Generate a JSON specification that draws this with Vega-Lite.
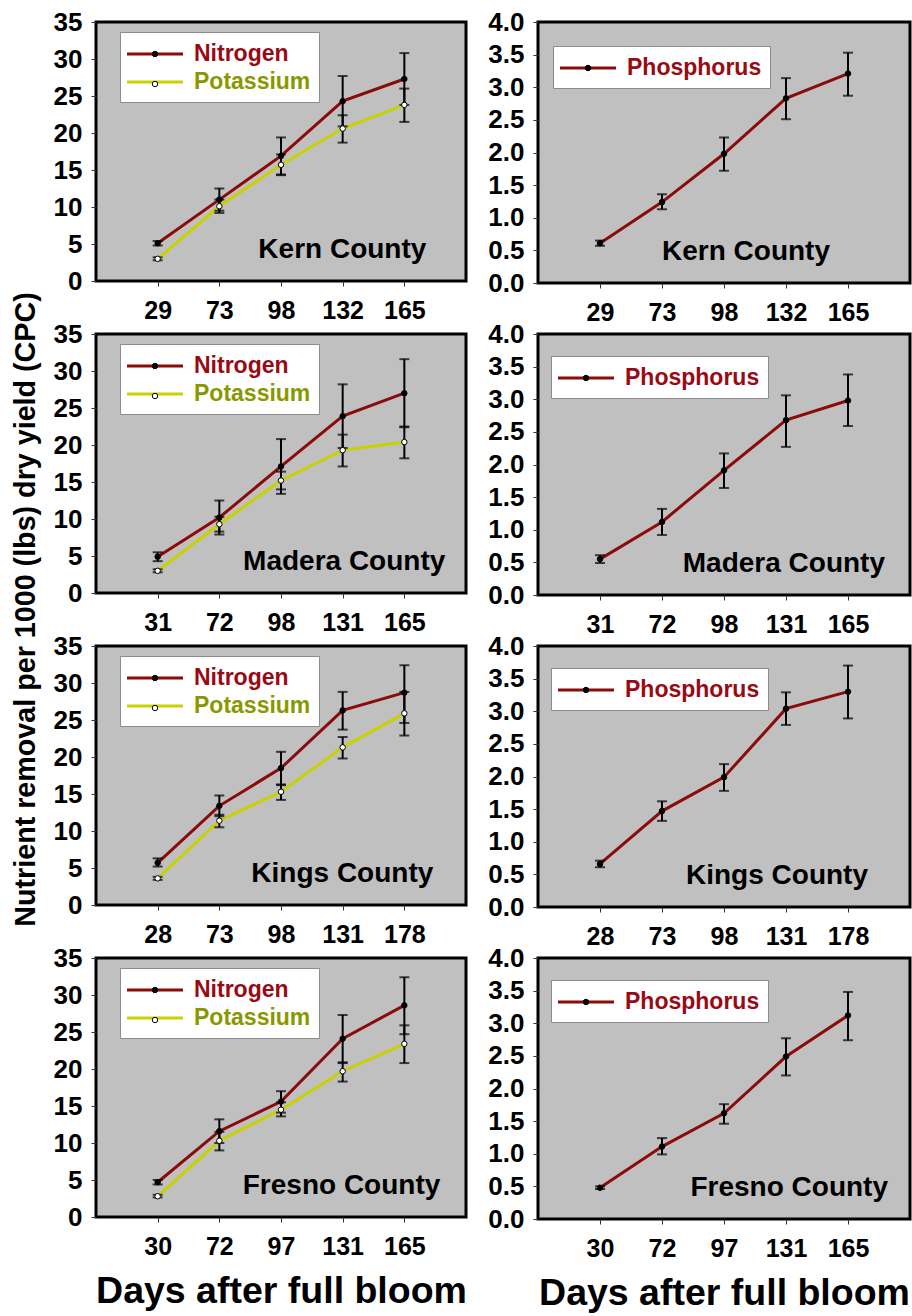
{
 "$schema": "https://vega.github.io/schema/vega-lite/v6.json",
 "padding": {"left": 9, "top": 7, "right": 0, "bottom": 0},
 "background": "white",
 "datasets": {
  "d": [
   {"county":"Kern County","nutrient":"Nitrogen","day":29,"value":5.1,"lo":4.8,"hi":5.4},
   {"county":"Kern County","nutrient":"Nitrogen","day":73,"value":11.0,"lo":9.5,"hi":12.5},
   {"county":"Kern County","nutrient":"Nitrogen","day":98,"value":16.9,"lo":14.4,"hi":19.4},
   {"county":"Kern County","nutrient":"Nitrogen","day":132,"value":24.3,"lo":20.9,"hi":27.7},
   {"county":"Kern County","nutrient":"Nitrogen","day":165,"value":27.3,"lo":23.8,"hi":30.8},
   {"county":"Kern County","nutrient":"Potassium","day":29,"value":3.0,"lo":2.8,"hi":3.2},
   {"county":"Kern County","nutrient":"Potassium","day":73,"value":10.1,"lo":9.2,"hi":11.0},
   {"county":"Kern County","nutrient":"Potassium","day":98,"value":15.7,"lo":14.3,"hi":17.1},
   {"county":"Kern County","nutrient":"Potassium","day":132,"value":20.6,"lo":18.7,"hi":22.4},
   {"county":"Kern County","nutrient":"Potassium","day":165,"value":23.8,"lo":21.5,"hi":26.0},
   {"county":"Kern County","nutrient":"Phosphorus","day":29,"value":0.61,"lo":0.57,"hi":0.65},
   {"county":"Kern County","nutrient":"Phosphorus","day":73,"value":1.24,"lo":1.13,"hi":1.36},
   {"county":"Kern County","nutrient":"Phosphorus","day":98,"value":1.98,"lo":1.72,"hi":2.23},
   {"county":"Kern County","nutrient":"Phosphorus","day":132,"value":2.83,"lo":2.51,"hi":3.14},
   {"county":"Kern County","nutrient":"Phosphorus","day":165,"value":3.21,"lo":2.87,"hi":3.53},
   {"county":"Madera County","nutrient":"Nitrogen","day":31,"value":4.9,"lo":4.3,"hi":5.5},
   {"county":"Madera County","nutrient":"Nitrogen","day":72,"value":10.2,"lo":7.9,"hi":12.5},
   {"county":"Madera County","nutrient":"Nitrogen","day":98,"value":17.1,"lo":13.4,"hi":20.8},
   {"county":"Madera County","nutrient":"Nitrogen","day":131,"value":23.9,"lo":19.6,"hi":28.2},
   {"county":"Madera County","nutrient":"Nitrogen","day":165,"value":27.0,"lo":22.4,"hi":31.6},
   {"county":"Madera County","nutrient":"Potassium","day":31,"value":3.0,"lo":2.8,"hi":3.2},
   {"county":"Madera County","nutrient":"Potassium","day":72,"value":9.3,"lo":8.3,"hi":10.3},
   {"county":"Madera County","nutrient":"Potassium","day":98,"value":15.2,"lo":14.0,"hi":16.4},
   {"county":"Madera County","nutrient":"Potassium","day":131,"value":19.3,"lo":17.1,"hi":21.4},
   {"county":"Madera County","nutrient":"Potassium","day":165,"value":20.4,"lo":18.2,"hi":22.5},
   {"county":"Madera County","nutrient":"Phosphorus","day":31,"value":0.55,"lo":0.49,"hi":0.61},
   {"county":"Madera County","nutrient":"Phosphorus","day":72,"value":1.12,"lo":0.92,"hi":1.32},
   {"county":"Madera County","nutrient":"Phosphorus","day":98,"value":1.91,"lo":1.64,"hi":2.17},
   {"county":"Madera County","nutrient":"Phosphorus","day":131,"value":2.68,"lo":2.27,"hi":3.06},
   {"county":"Madera County","nutrient":"Phosphorus","day":165,"value":2.98,"lo":2.59,"hi":3.38},
   {"county":"Kings County","nutrient":"Nitrogen","day":28,"value":5.7,"lo":5.2,"hi":6.3},
   {"county":"Kings County","nutrient":"Nitrogen","day":73,"value":13.4,"lo":12.0,"hi":14.8},
   {"county":"Kings County","nutrient":"Nitrogen","day":98,"value":18.5,"lo":16.2,"hi":20.7},
   {"county":"Kings County","nutrient":"Nitrogen","day":131,"value":26.3,"lo":23.7,"hi":28.8},
   {"county":"Kings County","nutrient":"Nitrogen","day":178,"value":28.7,"lo":24.6,"hi":32.4},
   {"county":"Kings County","nutrient":"Potassium","day":28,"value":3.6,"lo":3.4,"hi":3.8},
   {"county":"Kings County","nutrient":"Potassium","day":73,"value":11.4,"lo":10.5,"hi":12.2},
   {"county":"Kings County","nutrient":"Potassium","day":98,"value":15.3,"lo":14.2,"hi":16.3},
   {"county":"Kings County","nutrient":"Potassium","day":131,"value":21.3,"lo":19.8,"hi":22.7},
   {"county":"Kings County","nutrient":"Potassium","day":178,"value":25.9,"lo":22.9,"hi":28.8},
   {"county":"Kings County","nutrient":"Phosphorus","day":28,"value":0.66,"lo":0.61,"hi":0.71},
   {"county":"Kings County","nutrient":"Phosphorus","day":73,"value":1.47,"lo":1.32,"hi":1.62},
   {"county":"Kings County","nutrient":"Phosphorus","day":98,"value":1.99,"lo":1.78,"hi":2.19},
   {"county":"Kings County","nutrient":"Phosphorus","day":131,"value":3.04,"lo":2.79,"hi":3.29},
   {"county":"Kings County","nutrient":"Phosphorus","day":178,"value":3.30,"lo":2.89,"hi":3.70},
   {"county":"Fresno County","nutrient":"Nitrogen","day":30,"value":4.7,"lo":4.4,"hi":5.0},
   {"county":"Fresno County","nutrient":"Nitrogen","day":72,"value":11.6,"lo":10.0,"hi":13.2},
   {"county":"Fresno County","nutrient":"Nitrogen","day":97,"value":15.6,"lo":14.1,"hi":17.0},
   {"county":"Fresno County","nutrient":"Nitrogen","day":131,"value":24.1,"lo":20.8,"hi":27.3},
   {"county":"Fresno County","nutrient":"Nitrogen","day":165,"value":28.6,"lo":24.7,"hi":32.4},
   {"county":"Fresno County","nutrient":"Potassium","day":30,"value":2.8,"lo":2.65,"hi":3.0},
   {"county":"Fresno County","nutrient":"Potassium","day":72,"value":10.3,"lo":9.0,"hi":11.5},
   {"county":"Fresno County","nutrient":"Potassium","day":97,"value":14.5,"lo":13.6,"hi":15.5},
   {"county":"Fresno County","nutrient":"Potassium","day":131,"value":19.7,"lo":18.3,"hi":20.9},
   {"county":"Fresno County","nutrient":"Potassium","day":165,"value":23.4,"lo":20.8,"hi":25.9},
   {"county":"Fresno County","nutrient":"Phosphorus","day":30,"value":0.48,"lo":0.46,"hi":0.50},
   {"county":"Fresno County","nutrient":"Phosphorus","day":72,"value":1.11,"lo":0.99,"hi":1.24},
   {"county":"Fresno County","nutrient":"Phosphorus","day":97,"value":1.62,"lo":1.46,"hi":1.76},
   {"county":"Fresno County","nutrient":"Phosphorus","day":131,"value":2.49,"lo":2.20,"hi":2.77},
   {"county":"Fresno County","nutrient":"Phosphorus","day":165,"value":3.12,"lo":2.74,"hi":3.48}
  ]
 },
 "concat": [
  {
   "width": 370, "height": 259,
   "data": {"name": "d"},
   "transform": [{"filter": "datum.county === 'Kern County' && datum.nutrient !== 'Phosphorus'"}],
   "encoding": {"x": {"field": "day", "type": "ordinal", "scale": {"type": "point", "padding": 1}, "axis": {"title": null}}},
   "layer": [
    {"mark": {"type": "line", "strokeWidth": 3},
     "encoding": {
      "y": {"field": "value", "type": "quantitative", "title": "Nutrient removal per 1000 (lbs) dry yield (CPC)", "scale": {"domain": [0, 35], "nice": false}, "axis": {"tickCount": 7, "titleX": -62, "titleY": 587, "titleAngle": 270, "titleAlign": "center", "titleBaseline": "alphabetic", "titleFontSize": 28.7}},
      "color": {"field": "nutrient", "type": "nominal", "scale": {"range": ["#8b0a0a", "#c8d200"]}, "legend": {"title": null, "orient": "none", "legendX": 24, "legendY": 10, "fillColor": "white", "strokeColor": "#8c8c8c", "symbolType": "M-2.24,0H2.24", "symbolSize": 625, "symbolStrokeWidth": 3, "labelOffset": 25, "labelFontSize": 23, "encode": {"labels": {"update": {"fill": {"signal": "datum.value === 'Potassium' ? '#8a9800' : '#990a14'"}}}}}}
     }},
    {"mark": {"type": "errorbar", "ticks": true, "color": "black", "thickness": 2, "size": 10},
     "encoding": {"y": {"field": "lo", "type": "quantitative", "title": "Nutrient removal per 1000 (lbs) dry yield (CPC)"}, "y2": {"field": "hi"}}},
    {"mark": {"type": "point", "filled": true, "size": 30, "stroke": "black", "strokeWidth": 1, "opacity": 1},
     "encoding": {"y": {"field": "value", "type": "quantitative", "title": "Nutrient removal per 1000 (lbs) dry yield (CPC)"},
      "fill": {"field": "nutrient", "type": "nominal", "scale": {"domain": ["Nitrogen", "Potassium"], "range": ["black", "white"]}, "legend": {"title": null, "orient": "none", "legendX": 24, "legendY": 10, "symbolType": "circle", "symbolSize": 30, "symbolStrokeColor": "black", "symbolStrokeWidth": 1, "labelFontSize": 28, "labelExpr": "''"}}}},
    {"transform": [{"aggregate": [{"op": "count", "as": "n"}], "groupby": ["county"]}],
     "mark": {"type": "text", "fontSize": 28, "fontWeight": "bold", "align": "right", "baseline": "alphabetic", "dx": 22, "color": "black"},
     "encoding": {"x": {"datum": 165, "type": "ordinal"}, "y": {"datum": 3.1, "type": "quantitative"}, "text": {"field": "county"}}}
   ]
  },
  {
   "width": 372, "height": 261,
   "data": {"name": "d"},
   "transform": [{"filter": "datum.county === 'Kern County' && datum.nutrient === 'Phosphorus'"}],
   "encoding": {"x": {"field": "day", "type": "ordinal", "scale": {"type": "point", "padding": 1}, "axis": {"title": null}}},
   "layer": [
    {"mark": {"type": "line", "strokeWidth": 3},
     "encoding": {
      "y": {"field": "value", "type": "quantitative", "scale": {"domain": [0, 4], "nice": false}, "axis": {"tickCount": 8, "format": ".1f", "title": null}},
      "color": {"field": "nutrient", "type": "nominal", "scale": {"range": ["#8b0a0a"]}, "legend": {"title": null, "orient": "none", "legendX": 15, "legendY": 24, "fillColor": "white", "strokeColor": "#8c8c8c", "symbolType": "M-2.24,0H2.24", "symbolSize": 625, "symbolStrokeWidth": 3, "labelOffset": 25, "labelFontSize": 23, "labelColor": "#990a14"}}
     }},
    {"mark": {"type": "errorbar", "ticks": true, "color": "black", "thickness": 2, "size": 10},
     "encoding": {"y": {"field": "lo", "type": "quantitative"}, "y2": {"field": "hi"}}},
    {"mark": {"type": "point", "filled": true, "size": 30, "stroke": "black", "strokeWidth": 1, "opacity": 1},
     "encoding": {"y": {"field": "value", "type": "quantitative"},
      "fill": {"field": "nutrient", "type": "nominal", "scale": {"domain": ["Phosphorus"], "range": ["black"]}, "legend": {"title": null, "orient": "none", "legendX": 15, "legendY": 24, "symbolType": "circle", "symbolSize": 30, "symbolStrokeColor": "black", "symbolStrokeWidth": 1, "labelFontSize": 28, "labelExpr": "''"}}}},
    {"transform": [{"aggregate": [{"op": "count", "as": "n"}], "groupby": ["county"]}],
     "mark": {"type": "text", "fontSize": 28, "fontWeight": "bold", "align": "right", "baseline": "alphabetic", "dx": -18, "color": "black"},
     "encoding": {"x": {"datum": 165, "type": "ordinal"}, "y": {"datum": 0.35, "type": "quantitative"}, "text": {"field": "county"}}}
   ]
  },
  {
   "width": 370, "height": 259,
   "data": {"name": "d"},
   "transform": [{"filter": "datum.county === 'Madera County' && datum.nutrient !== 'Phosphorus'"}],
   "encoding": {"x": {"field": "day", "type": "ordinal", "scale": {"type": "point", "padding": 1}, "axis": {"title": null}}},
   "layer": [
    {"mark": {"type": "line", "strokeWidth": 3},
     "encoding": {
      "y": {"field": "value", "type": "quantitative", "scale": {"domain": [0, 35], "nice": false}, "axis": {"tickCount": 7, "title": null}},
      "color": {"field": "nutrient", "type": "nominal", "scale": {"range": ["#8b0a0a", "#c8d200"]}, "legend": {"title": null, "orient": "none", "legendX": 24, "legendY": 10, "fillColor": "white", "strokeColor": "#8c8c8c", "symbolType": "M-2.24,0H2.24", "symbolSize": 625, "symbolStrokeWidth": 3, "labelOffset": 25, "labelFontSize": 23, "encode": {"labels": {"update": {"fill": {"signal": "datum.value === 'Potassium' ? '#8a9800' : '#990a14'"}}}}}}
     }},
    {"mark": {"type": "errorbar", "ticks": true, "color": "black", "thickness": 2, "size": 10},
     "encoding": {"y": {"field": "lo", "type": "quantitative"}, "y2": {"field": "hi"}}},
    {"mark": {"type": "point", "filled": true, "size": 30, "stroke": "black", "strokeWidth": 1, "opacity": 1},
     "encoding": {"y": {"field": "value", "type": "quantitative"},
      "fill": {"field": "nutrient", "type": "nominal", "scale": {"domain": ["Nitrogen", "Potassium"], "range": ["black", "white"]}, "legend": {"title": null, "orient": "none", "legendX": 24, "legendY": 10, "symbolType": "circle", "symbolSize": 30, "symbolStrokeColor": "black", "symbolStrokeWidth": 1, "labelFontSize": 28, "labelExpr": "''"}}}},
    {"transform": [{"aggregate": [{"op": "count", "as": "n"}], "groupby": ["county"]}],
     "mark": {"type": "text", "fontSize": 28, "fontWeight": "bold", "align": "right", "baseline": "alphabetic", "dx": 41, "color": "black"},
     "encoding": {"x": {"datum": 165, "type": "ordinal"}, "y": {"datum": 3.1, "type": "quantitative"}, "text": {"field": "county"}}}
   ]
  },
  {
   "width": 372, "height": 261,
   "data": {"name": "d"},
   "transform": [{"filter": "datum.county === 'Madera County' && datum.nutrient === 'Phosphorus'"}],
   "encoding": {"x": {"field": "day", "type": "ordinal", "scale": {"type": "point", "padding": 1}, "axis": {"title": null}}},
   "layer": [
    {"mark": {"type": "line", "strokeWidth": 3},
     "encoding": {
      "y": {"field": "value", "type": "quantitative", "scale": {"domain": [0, 4], "nice": false}, "axis": {"tickCount": 8, "format": ".1f", "title": null}},
      "color": {"field": "nutrient", "type": "nominal", "scale": {"range": ["#8b0a0a"]}, "legend": {"title": null, "orient": "none", "legendX": 13, "legendY": 22, "fillColor": "white", "strokeColor": "#8c8c8c", "symbolType": "M-2.24,0H2.24", "symbolSize": 625, "symbolStrokeWidth": 3, "labelOffset": 25, "labelFontSize": 23, "labelColor": "#990a14"}}
     }},
    {"mark": {"type": "errorbar", "ticks": true, "color": "black", "thickness": 2, "size": 10},
     "encoding": {"y": {"field": "lo", "type": "quantitative"}, "y2": {"field": "hi"}}},
    {"mark": {"type": "point", "filled": true, "size": 30, "stroke": "black", "strokeWidth": 1, "opacity": 1},
     "encoding": {"y": {"field": "value", "type": "quantitative"},
      "fill": {"field": "nutrient", "type": "nominal", "scale": {"domain": ["Phosphorus"], "range": ["black"]}, "legend": {"title": null, "orient": "none", "legendX": 13, "legendY": 22, "symbolType": "circle", "symbolSize": 30, "symbolStrokeColor": "black", "symbolStrokeWidth": 1, "labelFontSize": 28, "labelExpr": "''"}}}},
    {"transform": [{"aggregate": [{"op": "count", "as": "n"}], "groupby": ["county"]}],
     "mark": {"type": "text", "fontSize": 28, "fontWeight": "bold", "align": "right", "baseline": "alphabetic", "dx": 37, "color": "black"},
     "encoding": {"x": {"datum": 165, "type": "ordinal"}, "y": {"datum": 0.35, "type": "quantitative"}, "text": {"field": "county"}}}
   ]
  },
  {
   "width": 370, "height": 259,
   "data": {"name": "d"},
   "transform": [{"filter": "datum.county === 'Kings County' && datum.nutrient !== 'Phosphorus'"}],
   "encoding": {"x": {"field": "day", "type": "ordinal", "scale": {"type": "point", "padding": 1}, "axis": {"title": null}}},
   "layer": [
    {"mark": {"type": "line", "strokeWidth": 3},
     "encoding": {
      "y": {"field": "value", "type": "quantitative", "scale": {"domain": [0, 35], "nice": false}, "axis": {"tickCount": 7, "title": null}},
      "color": {"field": "nutrient", "type": "nominal", "scale": {"range": ["#8b0a0a", "#c8d200"]}, "legend": {"title": null, "orient": "none", "legendX": 24, "legendY": 10, "fillColor": "white", "strokeColor": "#8c8c8c", "symbolType": "M-2.24,0H2.24", "symbolSize": 625, "symbolStrokeWidth": 3, "labelOffset": 25, "labelFontSize": 23, "encode": {"labels": {"update": {"fill": {"signal": "datum.value === 'Potassium' ? '#8a9800' : '#990a14'"}}}}}}
     }},
    {"mark": {"type": "errorbar", "ticks": true, "color": "black", "thickness": 2, "size": 10},
     "encoding": {"y": {"field": "lo", "type": "quantitative"}, "y2": {"field": "hi"}}},
    {"mark": {"type": "point", "filled": true, "size": 30, "stroke": "black", "strokeWidth": 1, "opacity": 1},
     "encoding": {"y": {"field": "value", "type": "quantitative"},
      "fill": {"field": "nutrient", "type": "nominal", "scale": {"domain": ["Nitrogen", "Potassium"], "range": ["black", "white"]}, "legend": {"title": null, "orient": "none", "legendX": 24, "legendY": 10, "symbolType": "circle", "symbolSize": 30, "symbolStrokeColor": "black", "symbolStrokeWidth": 1, "labelFontSize": 28, "labelExpr": "''"}}}},
    {"transform": [{"aggregate": [{"op": "count", "as": "n"}], "groupby": ["county"]}],
     "mark": {"type": "text", "fontSize": 28, "fontWeight": "bold", "align": "right", "baseline": "alphabetic", "dx": 29, "color": "black"},
     "encoding": {"x": {"datum": 178, "type": "ordinal"}, "y": {"datum": 3.1, "type": "quantitative"}, "text": {"field": "county"}}}
   ]
  },
  {
   "width": 372, "height": 261,
   "data": {"name": "d"},
   "transform": [{"filter": "datum.county === 'Kings County' && datum.nutrient === 'Phosphorus'"}],
   "encoding": {"x": {"field": "day", "type": "ordinal", "scale": {"type": "point", "padding": 1}, "axis": {"title": null}}},
   "layer": [
    {"mark": {"type": "line", "strokeWidth": 3},
     "encoding": {
      "y": {"field": "value", "type": "quantitative", "scale": {"domain": [0, 4], "nice": false}, "axis": {"tickCount": 8, "format": ".1f", "title": null}},
      "color": {"field": "nutrient", "type": "nominal", "scale": {"range": ["#8b0a0a"]}, "legend": {"title": null, "orient": "none", "legendX": 13, "legendY": 22, "fillColor": "white", "strokeColor": "#8c8c8c", "symbolType": "M-2.24,0H2.24", "symbolSize": 625, "symbolStrokeWidth": 3, "labelOffset": 25, "labelFontSize": 23, "labelColor": "#990a14"}}
     }},
    {"mark": {"type": "errorbar", "ticks": true, "color": "black", "thickness": 2, "size": 10},
     "encoding": {"y": {"field": "lo", "type": "quantitative"}, "y2": {"field": "hi"}}},
    {"mark": {"type": "point", "filled": true, "size": 30, "stroke": "black", "strokeWidth": 1, "opacity": 1},
     "encoding": {"y": {"field": "value", "type": "quantitative"},
      "fill": {"field": "nutrient", "type": "nominal", "scale": {"domain": ["Phosphorus"], "range": ["black"]}, "legend": {"title": null, "orient": "none", "legendX": 13, "legendY": 22, "symbolType": "circle", "symbolSize": 30, "symbolStrokeColor": "black", "symbolStrokeWidth": 1, "labelFontSize": 28, "labelExpr": "''"}}}},
    {"transform": [{"aggregate": [{"op": "count", "as": "n"}], "groupby": ["county"]}],
     "mark": {"type": "text", "fontSize": 28, "fontWeight": "bold", "align": "right", "baseline": "alphabetic", "dx": 20, "color": "black"},
     "encoding": {"x": {"datum": 178, "type": "ordinal"}, "y": {"datum": 0.35, "type": "quantitative"}, "text": {"field": "county"}}}
   ]
  },
  {
   "width": 370, "height": 259,
   "data": {"name": "d"},
   "transform": [{"filter": "datum.county === 'Fresno County' && datum.nutrient !== 'Phosphorus'"}],
   "encoding": {"x": {"field": "day", "type": "ordinal", "scale": {"type": "point", "padding": 1}, "axis": {"title": "Days after full bloom", "titleFontSize": 37.5, "titlePadding": 13}}},
   "layer": [
    {"mark": {"type": "line", "strokeWidth": 3},
     "encoding": {
      "y": {"field": "value", "type": "quantitative", "scale": {"domain": [0, 35], "nice": false}, "axis": {"tickCount": 7, "title": null}},
      "color": {"field": "nutrient", "type": "nominal", "scale": {"range": ["#8b0a0a", "#c8d200"]}, "legend": {"title": null, "orient": "none", "legendX": 24, "legendY": 10, "fillColor": "white", "strokeColor": "#8c8c8c", "symbolType": "M-2.24,0H2.24", "symbolSize": 625, "symbolStrokeWidth": 3, "labelOffset": 25, "labelFontSize": 23, "encode": {"labels": {"update": {"fill": {"signal": "datum.value === 'Potassium' ? '#8a9800' : '#990a14'"}}}}}}
     }},
    {"mark": {"type": "errorbar", "ticks": true, "color": "black", "thickness": 2, "size": 10},
     "encoding": {"y": {"field": "lo", "type": "quantitative"}, "y2": {"field": "hi"}}},
    {"mark": {"type": "point", "filled": true, "size": 30, "stroke": "black", "strokeWidth": 1, "opacity": 1},
     "encoding": {"y": {"field": "value", "type": "quantitative"},
      "fill": {"field": "nutrient", "type": "nominal", "scale": {"domain": ["Nitrogen", "Potassium"], "range": ["black", "white"]}, "legend": {"title": null, "orient": "none", "legendX": 24, "legendY": 10, "symbolType": "circle", "symbolSize": 30, "symbolStrokeColor": "black", "symbolStrokeWidth": 1, "labelFontSize": 28, "labelExpr": "''"}}}},
    {"transform": [{"aggregate": [{"op": "count", "as": "n"}], "groupby": ["county"]}],
     "mark": {"type": "text", "fontSize": 28, "fontWeight": "bold", "align": "right", "baseline": "alphabetic", "dx": 36, "color": "black"},
     "encoding": {"x": {"datum": 165, "type": "ordinal"}, "y": {"datum": 3.1, "type": "quantitative"}, "text": {"field": "county"}}}
   ]
  },
  {
   "width": 372, "height": 261,
   "data": {"name": "d"},
   "transform": [{"filter": "datum.county === 'Fresno County' && datum.nutrient === 'Phosphorus'"}],
   "encoding": {"x": {"field": "day", "type": "ordinal", "scale": {"type": "point", "padding": 1}, "axis": {"title": "Days after full bloom", "titleFontSize": 37.5, "titlePadding": 13}}},
   "layer": [
    {"mark": {"type": "line", "strokeWidth": 3},
     "encoding": {
      "y": {"field": "value", "type": "quantitative", "scale": {"domain": [0, 4], "nice": false}, "axis": {"tickCount": 8, "format": ".1f", "title": null}},
      "color": {"field": "nutrient", "type": "nominal", "scale": {"range": ["#8b0a0a"]}, "legend": {"title": null, "orient": "none", "legendX": 13, "legendY": 22, "fillColor": "white", "strokeColor": "#8c8c8c", "symbolType": "M-2.24,0H2.24", "symbolSize": 625, "symbolStrokeWidth": 3, "labelOffset": 25, "labelFontSize": 23, "labelColor": "#990a14"}}
     }},
    {"mark": {"type": "errorbar", "ticks": true, "color": "black", "thickness": 2, "size": 10},
     "encoding": {"y": {"field": "lo", "type": "quantitative"}, "y2": {"field": "hi"}}},
    {"mark": {"type": "point", "filled": true, "size": 30, "stroke": "black", "strokeWidth": 1, "opacity": 1},
     "encoding": {"y": {"field": "value", "type": "quantitative"},
      "fill": {"field": "nutrient", "type": "nominal", "scale": {"domain": ["Phosphorus"], "range": ["black"]}, "legend": {"title": null, "orient": "none", "legendX": 13, "legendY": 22, "symbolType": "circle", "symbolSize": 30, "symbolStrokeColor": "black", "symbolStrokeWidth": 1, "labelFontSize": 28, "labelExpr": "''"}}}},
    {"transform": [{"aggregate": [{"op": "count", "as": "n"}], "groupby": ["county"]}],
     "mark": {"type": "text", "fontSize": 28, "fontWeight": "bold", "align": "right", "baseline": "alphabetic", "dx": 40, "color": "black"},
     "encoding": {"x": {"datum": 165, "type": "ordinal"}, "y": {"datum": 0.35, "type": "quantitative"}, "text": {"field": "county"}}}
   ]
  }
 ],
 "columns": 2,
 "bounds": "flush",
 "align": "each",
 "spacing": {"row": 51, "column": 72},
 "resolve": {"scale": {"color": "independent", "fill": "independent"}, "legend": {"color": "independent", "fill": "independent"}},
 "config": {
  "font": "Liberation Sans",
  "view": {"fill": "#c0c0c0", "stroke": "black", "strokeWidth": 3},
  "axis": {"domain": false, "grid": false, "labelFont": "Liberation Sans", "labelFontWeight": "bold", "labelColor": "black", "tickColor": "#333333", "tickSize": 5, "tickWidth": 1, "titleFont": "Liberation Sans", "titleFontWeight": "bold", "titleColor": "black"},
  "axisX": {"labelFontSize": 25, "labelPadding": 12, "labelAngle": 0},
  "axisY": {"labelFontSize": 26, "labelPadding": 9},
  "legend": {"labelFont": "Liberation Sans", "labelFontWeight": "bold", "padding": 8, "rowPadding": 2, "direction": "vertical", "symbolOffset": 13, "labelLimit": 0},
  "text": {"font": "Liberation Sans"}
 }
}
